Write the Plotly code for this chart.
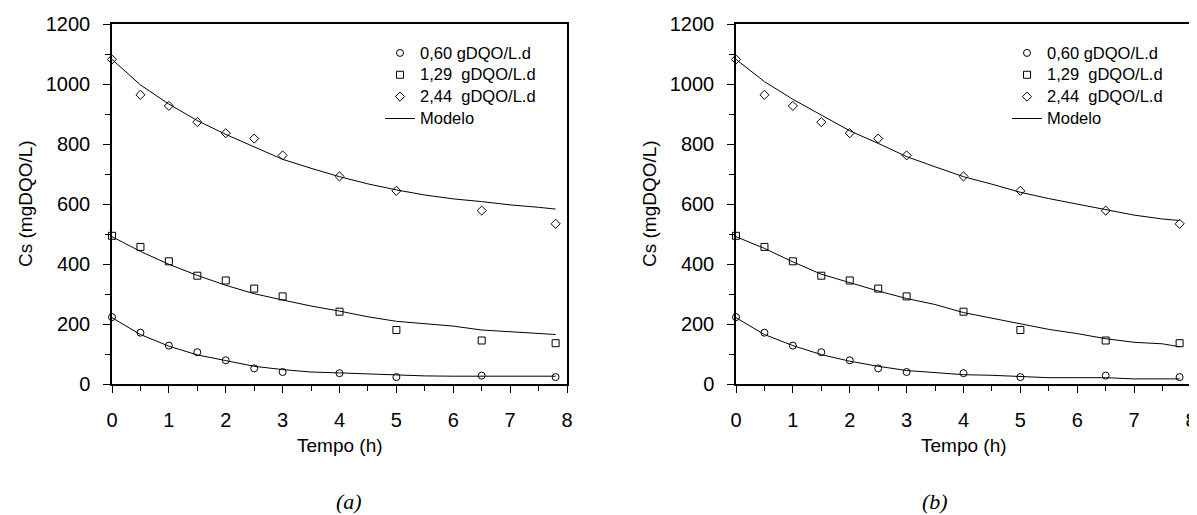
import plotly.graph_objects as go

# ---- data ----
t_obs = [0, 0.5, 1, 1.5, 2, 2.5, 3, 4, 5, 6.5, 7.8]
cs_060 = [223, 171, 128, 106, 79, 52, 40, 36, 23, 28, 23]
cs_129 = [494, 457, 409, 361, 345, 318, 292, 241, 180, 145, 136]
cs_244 = [1082, 964, 927, 873, 836, 818, 762, 692, 644, 578, 534]

t_mod = [0, 0.5, 1, 1.5, 2, 2.5, 3, 3.5, 4, 4.5, 5, 5.5, 6, 6.5, 7, 7.5, 7.8]
mod_a_060 = [221, 165, 126, 97, 78, 59, 48, 40, 37, 33, 31, 27, 26, 26, 26, 26, 26]
mod_a_129 = [491, 442, 399, 362, 329, 301, 280, 260, 243, 224, 209, 200, 193, 180, 175, 168, 165]
mod_a_244 = [1082, 997, 933, 878, 832, 791, 749, 719, 691, 667, 647, 630, 617, 608, 597, 589, 583]

mod_b_060 = [221, 165, 128, 98, 76, 59, 45, 39, 31, 29, 25, 21, 21, 21, 17, 17, 17]
mod_b_129 = [491, 452, 407, 366, 338, 310, 285, 265, 238, 219, 199, 182, 168, 151, 139, 134, 124]
mod_b_244 = [1082, 1008, 949, 897, 844, 802, 758, 724, 691, 666, 639, 618, 600, 581, 563, 550, 545]

series_names = ["0,60 gDQO/L.d", "1,29\u00a0 gDQO/L.d", "2,44\u00a0 gDQO/L.d"]
model_name = "Modelo"
x_ticks = [0, 1, 2, 3, 4, 5, 6, 7, 8]
y_ticks = [0, 200, 400, 600, 800, 1000, 1200]

# the page shows the figure offset by the default 8px body margin
PAGE_OFF = 8
W, H = 1197 - PAGE_OFF, 515 - PAGE_OFF
FONT = "Liberation Sans"
SERIF = "Liberation Serif"

def px(x):
    return (x - PAGE_OFF) / W

def py(y):
    return 1 - (y - PAGE_OFF) / H

def leg_label(s):
    return '<span style="font-size:16.5px">' + s + '</span>'

fig = go.Figure()

symbols = ["circle-open", "square-open", "diamond-open"]
obs = [cs_060, cs_129, cs_244]
models = {
    "a": [mod_a_060, mod_a_129, mod_a_244],
    "b": [mod_b_060, mod_b_129, mod_b_244],
}

for panel, xa, ya, leg in [("a", "x", "y", "legend"), ("b", "x2", "y2", "legend2")]:
    for i, m in enumerate(models[panel]):
        fig.add_trace(go.Scatter(
            x=t_mod, y=m, mode="lines", xaxis=xa, yaxis=ya,
            line=dict(color="black", width=1),
            name=leg_label(model_name), showlegend=(i == 0), legend=leg,
            legendrank=1000, cliponaxis=False, hoverinfo="skip"))
    for i in range(3):
        fig.add_trace(go.Scatter(
            x=t_obs, y=obs[i], mode="markers", xaxis=xa, yaxis=ya,
            marker=dict(symbol=symbols[i], size=7, color="black",
                        line=dict(color="black", width=1)),
            name=leg_label(series_names[i]), legend=leg, legendrank=i + 1,
            cliponaxis=False))

axis_common = dict(
    showgrid=False, zeroline=False, showline=True, linecolor="black",
    linewidth=1.5, mirror=True, ticks="outside", ticklen=7, tickwidth=1.3,
    tickcolor="black", tickfont=dict(family=FONT, size=20, color="black"),
    automargin=False,
)

xcommon = dict(axis_common, range=[0, 8], tickvals=x_ticks,
               minor=dict(dtick=0.5, ticks="outside", ticklen=5, tickwidth=1.3,
                          tickcolor="black", showgrid=False),
               ticklabelstandoff=10)
ycommon = dict(axis_common, range=[0, 1200], tickvals=y_ticks,
               minor=dict(dtick=100, ticks="outside", ticklen=5, tickwidth=1.3,
                          tickcolor="black", showgrid=False),
               ticklabelstandoff=9)

ydom = [py(384), py(24)]
legend_common = dict(xanchor="left", yanchor="top",
                     bgcolor="rgba(0,0,0,0)", borderwidth=0,
                     font=dict(family=FONT, size=14.5, color="black"),
                     tracegroupgap=0, traceorder="normal")
fig.update_layout(
    width=W, height=H,
    margin=dict(l=0, r=0, t=0, b=0, autoexpand=False),
    paper_bgcolor="white", plot_bgcolor="white",
    font=dict(family=FONT, color="black"),
    xaxis=dict(xcommon, domain=[px(112), px(567)], anchor="y"),
    yaxis=dict(ycommon, domain=ydom, anchor="x"),
    xaxis2=dict(xcommon, domain=[px(736), px(1191)], anchor="y2"),
    yaxis2=dict(ycommon, domain=ydom, anchor="x2"),
    legend=dict(legend_common, x=px(380), y=py(37)),
    legend2=dict(legend_common, x=px(1007), y=py(37)),
    showlegend=True,
)

ann = []
for cx_axis, cx_plot, lab_x, lab in [(25, 339.5, 349, "(a)"), (649, 963.5, 935, "(b)")]:
    ann.append(dict(text="Cs (mgDQO/L)", x=px(cx_axis), y=py(204), xref="paper", yref="paper",
                    showarrow=False, textangle=-90, xanchor="center", yanchor="middle",
                    font=dict(family=FONT, size=19, color="black")))
    ann.append(dict(text="Tempo (h)", x=px(cx_plot), y=py(445), xref="paper", yref="paper",
                    showarrow=False, xanchor="center", yanchor="middle",
                    font=dict(family=FONT, size=19, color="black")))
    ann.append(dict(text="<i>" + lab + "</i>", x=px(lab_x), y=py(501), xref="paper", yref="paper",
                    showarrow=False, xanchor="center", yanchor="middle",
                    font=dict(family=SERIF, size=22, color="black")))
fig.update_layout(annotations=ann)

fig.write_html("out.html")
